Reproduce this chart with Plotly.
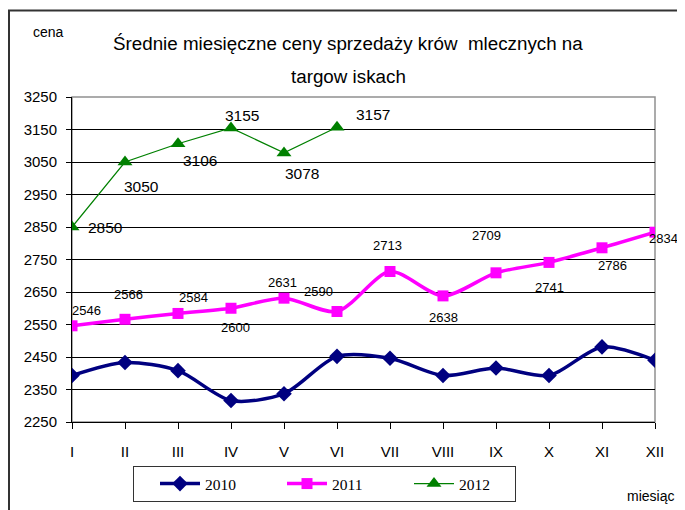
import plotly.graph_objects as go

months = ["I", "II", "III", "IV", "V", "VI", "VII", "VIII", "IX", "X", "XI", "XII"]
prices_2010 = [2393, 2433, 2408, 2316, 2337, 2452, 2446, 2393, 2416, 2393, 2481, 2440]
prices_2011 = [2546, 2566, 2584, 2600, 2631, 2590, 2713, 2638, 2709, 2741, 2786, 2834]
prices_2012 = [2850, 3050, 3106, 3155, 3078, 3157]
y_ticks = [2250, 2350, 2450, 2550, 2650, 2750, 2850, 2950, 3050, 3150, 3250]

# label offsets (px) - styling only
off_2011 = [(14, 15), (3, 25), (15, 16), (4, -19), (-2, 16), (-19, 20),
            (-3, 26), (0, -22), (-10, 37), (0, -25), (10, -18), (8, -6)]
off_2012 = [(33, 0), (16, -24), (22, -17), (11, 12), (18, -21), (36, 13)]

x_all = list(range(len(months)))

fig = go.Figure()
fig.add_trace(go.Scatter(
    x=x_all, y=prices_2010, name="2010", mode="lines+markers",
    line=dict(color="#000080", width=3.5, shape="spline", smoothing=0.8),
    marker=dict(symbol="diamond", size=12, color="#000080"),
))
fig.add_trace(go.Scatter(
    x=x_all, y=prices_2011, name="2011", mode="lines+markers",
    line=dict(color="#FF00FF", width=3.5, shape="spline", smoothing=0.8),
    marker=dict(symbol="square", size=11, color="#FF00FF"),
))
fig.add_trace(go.Scatter(
    x=x_all[:len(prices_2012)], y=prices_2012, name="2012", mode="lines+markers",
    line=dict(color="#008000", width=1.2),
    marker=dict(symbol="triangle-up", size=13, color="#008000"),
))

lab_font = "Liberation Sans, Arial, sans-serif"
annotations = []
for i, v in enumerate(prices_2011):
    dx, dy = off_2011[i]
    annotations.append(dict(x=i, y=v, text=str(v), showarrow=False, xshift=dx, yshift=dy,
                            font=dict(family=lab_font, size=13, color="black")))
for i, v in enumerate(prices_2012):
    dx, dy = off_2012[i]
    annotations.append(dict(x=i, y=v, text=str(v), showarrow=False, xshift=dx, yshift=dy,
                            font=dict(family=lab_font, size=15.5, color="black")))

annotations += [
    dict(xref="paper", yref="paper", x=(348 - 72) / 583, y=1 + (97 - 44) / 325,
         text="Średnie miesięczne ceny sprzedaży krów  mlecznych na", showarrow=False,
         font=dict(family=lab_font, size=18.8, color="black"), xanchor="center", yanchor="middle"),
    dict(xref="paper", yref="paper", x=(348 - 72) / 583, y=1 + (97 - 76) / 325,
         text="targow iskach", showarrow=False,
         font=dict(family=lab_font, size=18.8, color="black"), xanchor="center", yanchor="middle"),
    dict(xref="paper", yref="paper", x=(48 - 72) / 583, y=1 + (97 - 32) / 325,
         text="cena", showarrow=False,
         font=dict(family=lab_font, size=14, color="black"), xanchor="center", yanchor="middle"),
    dict(xref="paper", yref="paper", x=(676 - 72) / 583, y=-(496 - 422) / 325,
         text="miesiąc", showarrow=False,
         font=dict(family=lab_font, size=14, color="black"), xanchor="right", yanchor="middle"),
]

shapes = [
    # plot area border (gray)
    dict(type="rect", xref="paper", yref="paper", x0=0, x1=1, y0=0, y1=1,
         line=dict(color="#909090", width=1.5), layer="below"),
    # outer frame (top and left visible)
    dict(type="rect", xref="paper", yref="paper",
         x0=(9 - 72) / 583, x1=(720 - 72) / 583, y0=-(540 - 422) / 325, y1=1 + (97 - 10.5) / 325,
         line=dict(color="#333333", width=2), layer="below"),
]

# the page body adds an 8px offset; the figure is sized so its content lands on the window
fig.update_layout(
    width=677, height=502,
    margin=dict(l=64, r=30, t=89, b=88, autoexpand=False),
    paper_bgcolor="white", plot_bgcolor="white",
    showlegend=True,
    legend=dict(orientation="h", x=(133 - 72) / 583, y=-(466 - 422) / 325,
                xanchor="left", yanchor="top",
                bordercolor="#333333", borderwidth=1, bgcolor="white",
                font=dict(family="Liberation Serif, Times New Roman, serif", size=15.5, color="black"),
                entrywidth=51, entrywidthmode="pixels", itemwidth=40,
                indentation=21, tracegroupgap=0),
    annotations=annotations,
    shapes=shapes,
    font=dict(family=lab_font, color="black"),
)
fig.update_xaxes(
    range=[0, 11], tickvals=x_all, ticktext=months,
    showline=True, linecolor="black", linewidth=1,
    ticks="outside", ticklen=6, tickcolor="black",
    showgrid=False, zeroline=False,
    tickfont=dict(family=lab_font, size=15, color="black"),
    ticklabelstandoff=10,
)
fig.update_yaxes(
    range=[2250, 3250], tickvals=y_ticks,
    showline=True, linecolor="black", linewidth=1,
    ticks="outside", ticklen=5, tickcolor="black",
    showgrid=True, gridcolor="black", gridwidth=1, zeroline=False,
    tickfont=dict(family=lab_font, size=15, color="black"),
    ticklabelstandoff=6,
)

fig.write_html("out.html")
